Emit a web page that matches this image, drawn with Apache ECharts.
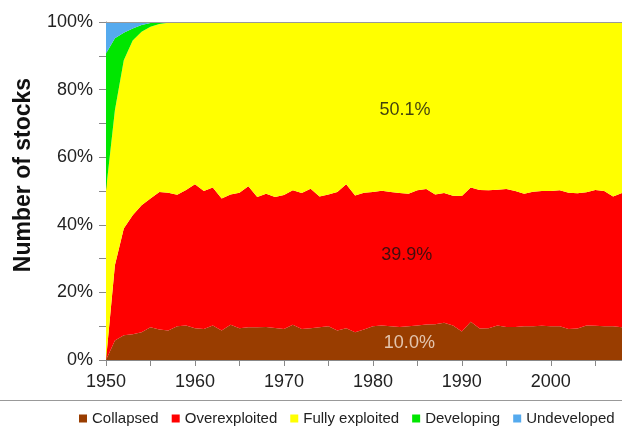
<!DOCTYPE html>
<html>
<head>
<meta charset="utf-8">
<script src="https://cdn.jsdelivr.net/npm/echarts@6/dist/echarts.min.js"></script>
<style>html,body{margin:0;padding:0;background:#fff;}#c{width:622px;height:426px;}</style>
</head>
<body>
<div id="c"></div>
<script>
var years = [1950,1951,1952,1953,1954,1955,1956,1957,1958,1959,
  1960,1961,1962,1963,1964,1965,1966,1967,1968,1969,
  1970,1971,1972,1973,1974,1975,1976,1977,1978,1979,
  1980,1981,1982,1983,1984,1985,1986,1987,1988,1989,
  1990,1991,1992,1993,1994,1995,1996,1997,1998,1999,
  2000,2001,2002,2003,2004,2005,2006,2007,2008];

var collapsed = [0,5.8,7.3,7.6,8.2,9.7,9.0,8.7,10.0,10.2,
  9.4,9.2,10.2,8.7,10.4,9.4,9.7,9.7,9.8,9.5,
  9.2,10.4,9.2,9.4,9.7,10.0,8.7,9.4,8.2,9.0,
  10.0,10.2,10.0,9.8,10.0,10.2,10.5,10.6,11.0,10.2,
  8.4,11.3,9.3,9.4,10.2,9.8,9.8,10.0,10.0,10.1,
  10.0,10.0,9.2,9.3,10.2,10.1,10.0,10.0,9.7];

var overexploited = [0,22.2,31.6,35.2,37.6,38.1,40.7,40.8,38.9,40.1,
  42.6,40.8,40.8,39.1,38.6,40.1,41.7,38.5,39.4,38.7,
  39.6,39.8,40.2,41.3,38.7,39.0,41.0,42.6,40.5,40.5,
  39.7,39.9,39.7,39.6,39.2,40.0,40.1,38.4,38.4,38.4,
  40.1,39.7,41.0,40.8,40.2,40.8,40.2,39.2,39.8,39.9,
  40.0,40.2,40.3,40.0,39.4,40.2,40.0,38.4,39.7];

var fullyExploited = [50.2,45.9,49.8,51.7,51.3,50.8,49.7,50.3,51.1,49.7,
  48.0,50.0,49.0,52.2,51.0,50.5,48.6,51.8,50.8,51.8,
  51.2,49.8,50.6,49.3,51.6,51.0,50.3,48.0,51.3,50.5,
  50.3,49.9,50.3,50.6,50.8,49.8,49.4,51.0,50.6,51.4,
  51.5,49.0,49.7,49.8,49.6,49.4,50.0,50.8,50.2,50.0,
  50.0,49.8,50.5,50.7,50.4,49.7,50.0,51.6,50.6];

var developing = [40.5,21.3,8.1,3.6,2.0,1.1,0.6,0.2,0,0,
  0,0,0,0,0,0,0,0,0,0,
  0,0,0,0,0,0,0,0,0,0,
  0,0,0,0,0,0,0,0,0,0,
  0,0,0,0,0,0,0,0,0,0,
  0,0,0,0,0,0,0,0,0];

var undeveloped = [9.3,4.8,3.2,1.9,0.9,0.3,0,0,0,0,
  0,0,0,0,0,0,0,0,0,0,
  0,0,0,0,0,0,0,0,0,0,
  0,0,0,0,0,0,0,0,0,0,
  0,0,0,0,0,0,0,0,0,0,
  0,0,0,0,0,0,0,0,0];

var seriesNames = ['Collapsed','Overexploited','Fully exploited','Developing','Undeveloped'];
var seriesColors = ['#993d00','#ff0000','#ffff00','#00e600','#55aaee'];
var seriesValues = [collapsed, overexploited, fullyExploited, developing, undeveloped];

var yTickLabels = ['0%','20%','40%','60%','80%','100%'];
var xTickLabels = ['1950','1960','1970','1980','1990','2000'];
var annotations = [
  {text:'50.1%', year:1983.6, value:74, color:'#111'},
  {text:'39.9%', year:1983.8, value:31, color:'#111'},
  {text:'10.0%', year:1984.1, value:5, color:'#f5e6d8'}
];

var FONT = 'Liberation Sans, Arial, sans-serif';
var chart = echarts.init(document.getElementById('c'), null, {renderer:'canvas'});

var series = seriesNames.map(function(n, i){
  return {
    name: n,
    type: 'line',
    stack: 'total',
    symbol: 'none',
    lineStyle: {width: 0},
    itemStyle: {color: seriesColors[i]},
    areaStyle: {color: seriesColors[i], opacity: 1},
    data: seriesValues[i],
    z: 2
  };
});

series.push({
  type: 'scatter',
  xAxisIndex: 1,
  symbolSize: 0,
  silent: true,
  z: 5,
  data: annotations.map(function(a){
    return {value:[a.year, a.value], label:{show:true, formatter:a.text, color:a.color, fontSize:18, fontFamily:FONT, position:'inside'}};
  })
});

chart.setOption({
  animation: false,
  backgroundColor: '#fff',
  grid: {left: 106, top: 22, right: -2, bottom: 66, show: false},
  legend: {
    data: seriesNames,
    left: 74,
    top: 406,
    width: 900,
    icon: 'rect',
    itemWidth: 8,
    itemHeight: 8,
    itemGap: 13,
    textStyle: {fontSize: 15, color: '#222', fontFamily: FONT}
  },
  xAxis: [{
    type: 'category',
    data: years.map(String),
    boundaryGap: false,
    axisLine: {show: true, lineStyle: {color: '#888', width: 1}},
    axisTick: {show: true, length: 6, lineStyle: {color: '#888'},
      interval: function(i, v){ return (+v) % 5 === 0; }},
    splitLine: {show: false},
    axisLabel: {
      color: '#222', fontSize: 18, margin: 13, fontFamily: FONT,
      interval: function(i, v){ return xTickLabels.indexOf(v) >= 0; }
    }
  }, {
    type: 'value', min: 1950, max: 2008, show: false
  }],
  yAxis: {
    type: 'value',
    min: 0,
    max: 100,
    interval: 10,
    axisLine: {show: true, lineStyle: {color: '#888', width: 1}},
    axisTick: {show: true, length: 7, lineStyle: {color: '#888'}},
    splitLine: {show: false},
    axisLabel: {
      color: '#222', fontSize: 18, margin: 13, fontFamily: FONT,
      formatter: function(v){ var s = v + '%'; return yTickLabels.indexOf(s) >= 0 ? s : ''; }
    }
  },
  graphic: [
    {type:'text', x:24, y:175, rotation: Math.PI/2, z: 10,
     style:{text:'Number of stocks', fontSize:23, fontWeight:'bold', fill:'#111', fontFamily:FONT, align:'center', verticalAlign:'middle'}},
    {type:'line', z: 10, shape:{x1:106, y1:22.5, x2:622, y2:22.5}, style:{stroke:'#999', lineWidth:1}},
    {type:'line', z: 10, shape:{x1:0, y1:400.5, x2:622, y2:400.5}, style:{stroke:'#999', lineWidth:1}}
  ],
  series: series
});
</script>
</body>
</html>
